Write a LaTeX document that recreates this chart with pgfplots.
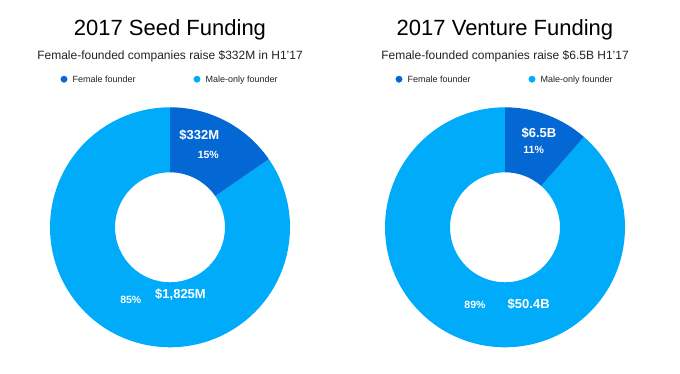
\documentclass[border=0pt]{standalone}
\usepackage{pgfplots}
\pgfplotsset{compat=1.18}
\usepackage{fontspec}
\setmainfont{Liberation Sans}
\definecolor{fem}{RGB}{4,104,212}
\definecolor{male}{RGB}{0,172,250}
\definecolor{subt}{RGB}{34,34,34}

% data
\def\seedF{332}   \def\seedM{1825}
\def\ventF{6.5}   \def\ventM{50.4}
\pgfmathsetmacro\seedA{90-360*(\seedF/(\seedF+\seedM))}
\pgfmathsetmacro\ventA{90-360*(\ventF/(\ventF+\ventM))}
\def\Ro{120pt}\def\Ri{55pt}

\begin{document}
\begin{tikzpicture}
\begin{axis}[
  x=1pt, y=1pt, xmin=0, xmax=680, ymin=0, ymax=374,
  hide axis, clip=false, axis line style={draw=none},
]
\path (axis cs:0,0) rectangle (axis cs:680,374);
% seed donut
\begin{scope}[shift={(axis cs:170,146.7)}]
  \fill[male] (\seedA:\Ro) arc[start angle=\seedA, end angle=-270, radius=\Ro]
     -- (-270:\Ri) arc[start angle=-270, end angle=\seedA, radius=\Ri] -- cycle;
  \fill[fem] (90:\Ro) arc[start angle=90, end angle=\seedA, radius=\Ro]
     -- (\seedA:\Ri) arc[start angle=\seedA, end angle=90, radius=\Ri] -- cycle;
\end{scope}
% venture donut
\begin{scope}[shift={(axis cs:505,146.7)}]
  \fill[male] (\ventA:\Ro) arc[start angle=\ventA, end angle=-270, radius=\Ro]
     -- (-270:\Ri) arc[start angle=-270, end angle=\ventA, radius=\Ri] -- cycle;
  \fill[fem] (90:\Ro) arc[start angle=90, end angle=\ventA, radius=\Ro]
     -- (\ventA:\Ri) arc[start angle=\ventA, end angle=90, radius=\Ri] -- cycle;
\end{scope}

% legend markers
\addplot[only marks, mark=*, mark size=3.2pt, fem, mark options={draw=fem,fill=fem}] coordinates {(64,294.8) (399,294.8)};
\addplot[only marks, mark=*, mark size=3.2pt, male, mark options={draw=male,fill=male}] coordinates {(197,294.8) (532,294.8)};

% titles
\node[anchor=base, font=\fontsize{22}{26}\selectfont] at (axis cs:170,338) {2017 Seed Funding};
\node[anchor=base, font=\fontsize{22}{26}\selectfont] at (axis cs:505,338) {2017 Venture Funding};
\node[anchor=base, text=subt, font=\fontsize{12}{14}\selectfont] at (axis cs:170,314) {Female-founded companies raise \$332M in H1’17};
\node[anchor=base, text=subt, font=\fontsize{12}{14}\selectfont] at (axis cs:505,314) {Female-founded companies raise \$6.5B H1’17};

% legend text
\node[anchor=base west, inner sep=0pt, text=subt, font=\fontsize{9}{11}\selectfont] at (axis cs:72.5,291.8) {Female founder};
\node[anchor=base west, inner sep=0pt, text=subt, font=\fontsize{9}{11}\selectfont] at (axis cs:205.5,291.8) {Male-only founder};
\node[anchor=base west, inner sep=0pt, text=subt, font=\fontsize{9}{11}\selectfont] at (axis cs:407.5,291.8) {Female founder};
\node[anchor=base west, inner sep=0pt, text=subt, font=\fontsize{9}{11}\selectfont] at (axis cs:540.5,291.8) {Male-only founder};

% wedge labels
\node[anchor=base, inner sep=0pt, text=white, font=\bfseries\fontsize{13}{15}\selectfont] at (axis cs:199.3,234) {\$332M};
\node[anchor=base, inner sep=0pt, text=white, font=\bfseries\fontsize{10.5}{12}\selectfont] at (axis cs:208.3,215) {15\%};
\node[anchor=base, inner sep=0pt, text=white, font=\bfseries\fontsize{13}{15}\selectfont] at (axis cs:180.5,75) {\$1,825M};
\node[anchor=base, inner sep=0pt, text=white, font=\bfseries\fontsize{10.5}{12}\selectfont] at (axis cs:130.8,70) {85\%};
\node[anchor=base, inner sep=0pt, text=white, font=\bfseries\fontsize{13}{15}\selectfont] at (axis cs:539,236.7) {\$6.5B};
\node[anchor=base, inner sep=0pt, text=white, font=\bfseries\fontsize{10.5}{12}\selectfont] at (axis cs:533.7,220) {11\%};
\node[anchor=base, inner sep=0pt, text=white, font=\bfseries\fontsize{10.5}{12}\selectfont] at (axis cs:475,65.5) {89\%};
\node[anchor=base, inner sep=0pt, text=white, font=\bfseries\fontsize{13}{15}\selectfont] at (axis cs:528.7,65.7) {\$50.4B};
\end{axis}
\end{tikzpicture}
\end{document}
